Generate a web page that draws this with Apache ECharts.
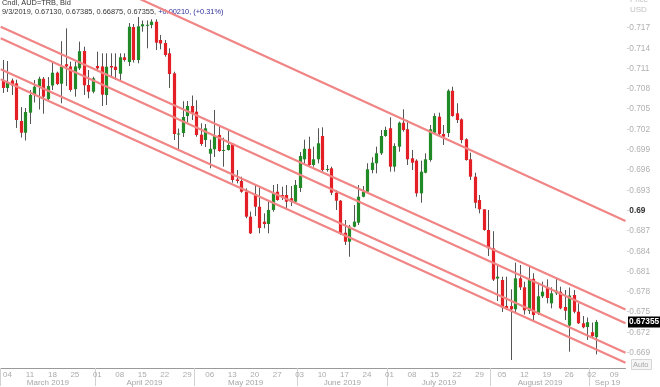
<!DOCTYPE html>
<html><head><meta charset="utf-8">
<script src="https://cdn.jsdelivr.net/npm/echarts@6/dist/echarts.min.js"></script>
<style>html,body{margin:0;padding:0;background:#fff}#c{width:660px;height:387px}</style>
</head><body><div id="c"></div>
<script>
// ---- data (AUD=TRB daily, Bid) ----
const startDate = '2019-03-01';
const nSlots = 139; // trading-day slots on the axis (data + blank future)
const opens = [0.70927,0.70814,0.70924,0.70882,0.70325,0.70152,0.70448,0.70710,0.70842,0.70950,
0.70651,0.70850,0.71039,0.70877,0.71165,0.71132,0.70796,0.71104,0.71361,0.70857,
0.70759,0.71138,0.71132,0.70710,0.71138,0.71128,0.71024,0.71267,0.71197,0.71715,
0.71227,0.71725,0.71740,0.71744,0.71793,0.71523,0.71478,0.71326,0.71030,0.70133,
0.70148,0.70399,0.70547,0.70463,0.70123,0.70044,0.69842,0.69908,0.70118,0.69889,
0.69897,0.69993,0.69463,0.69438,0.69280,0.68911,0.69246,0.69058,0.68837,0.68803,
0.69010,0.69280,0.69231,0.69231,0.69183,0.69132,0.69335,0.69759,0.69914,0.69675,
0.69759,0.70104,0.69608,0.69626,0.69265,0.69147,0.68674,0.68541,0.68763,0.68822,
0.69206,0.69280,0.69601,0.69700,0.69848,0.70104,0.70218,0.69650,0.69946,0.70300,
0.70203,0.69774,0.69739,0.69256,0.69561,0.69749,0.70152,0.70389,0.70133,0.70148,
0.70773,0.70439,0.70350,0.70055,0.69759,0.69502,0.69157,0.69020,0.68714,0.68443,
0.67997,0.67975,0.67590,0.67590,0.67542,0.68000,0.67867,0.67516,0.67993,0.67482,
0.67734,0.67857,0.67630,0.67778,0.67802,0.67576,0.67302,0.67753,0.67506,0.67335,
0.67280,0.67203,0.67130];
const highs = [0.71227,0.71212,0.70953,0.70936,0.70532,0.70518,0.70784,0.70931,0.70980,0.70975,
0.70975,0.71183,0.71054,0.71505,0.71695,0.71202,0.71202,0.71498,0.71424,0.71079,
0.70980,0.71350,0.71326,0.71326,0.71326,0.71326,0.71326,0.71326,0.71774,0.71759,
0.71863,0.71811,0.71811,0.71829,0.71829,0.71597,0.71523,0.71400,0.71054,0.70214,
0.70618,0.70621,0.70702,0.70632,0.70291,0.70281,0.70049,0.70488,0.70262,0.70078,
0.70177,0.69996,0.69601,0.69502,0.69330,0.68985,0.69379,0.69349,0.68961,0.69132,
0.69379,0.69394,0.69354,0.69379,0.69364,0.69453,0.69867,0.70049,0.70093,0.69946,
0.70218,0.70232,0.69675,0.69650,0.69305,0.69157,0.68862,0.68788,0.69083,0.69379,
0.69364,0.69700,0.69789,0.69946,0.70192,0.70241,0.70380,0.69996,0.70315,0.70498,
0.70340,0.69897,0.69759,0.69739,0.69848,0.70266,0.70439,0.70448,0.70266,0.70794,
0.70832,0.70587,0.70365,0.70070,0.69857,0.69561,0.69231,0.69020,0.69010,0.68696,
0.68182,0.68024,0.68024,0.67837,0.68231,0.68197,0.67950,0.68167,0.68074,0.67931,
0.67950,0.67985,0.67867,0.68000,0.67876,0.67827,0.67864,0.67827,0.67630,0.67442,
0.67420,0.67346,0.67385];
const lows = [0.70740,0.70754,0.70710,0.70222,0.70081,0.70037,0.70281,0.70599,0.70495,0.70433,
0.70629,0.70784,0.70857,0.70587,0.70842,0.70759,0.70685,0.71079,0.70710,0.70661,
0.70735,0.71079,0.70547,0.70562,0.70980,0.70931,0.70901,0.71202,0.71138,0.71190,
0.71178,0.71645,0.71400,0.71696,0.71375,0.71385,0.71276,0.70814,0.70044,0.69907,
0.70089,0.70303,0.70340,0.70093,0.69959,0.69941,0.69626,0.69793,0.69871,0.69650,
0.69889,0.69413,0.69404,0.69265,0.68887,0.68655,0.68921,0.68665,0.68739,0.68665,
0.68985,0.69147,0.69157,0.69010,0.69069,0.69109,0.69276,0.69694,0.69650,0.69650,
0.69700,0.69576,0.69576,0.69231,0.69010,0.68640,0.68492,0.68319,0.68754,0.68788,
0.69197,0.69265,0.69552,0.69552,0.69823,0.70093,0.69576,0.69576,0.69871,0.70167,
0.69675,0.69601,0.69206,0.69117,0.69552,0.69724,0.70133,0.70118,0.69971,0.70089,
0.70389,0.70296,0.69996,0.69739,0.69453,0.69035,0.68961,0.68704,0.68330,0.67960,
0.67664,0.67502,0.67531,0.66792,0.67482,0.67827,0.67464,0.67472,0.67383,0.67457,
0.67709,0.67630,0.67556,0.67753,0.67542,0.67383,0.66915,0.67482,0.67324,0.67261,
0.67088,0.67132,0.66875];
const closes = [0.70814,0.70887,0.70850,0.70340,0.70152,0.70458,0.70710,0.70832,0.70950,0.70685,
0.70842,0.71039,0.70872,0.71128,0.71132,0.70784,0.71132,0.71357,0.70853,0.70759,
0.70956,0.71104,0.70715,0.71128,0.71116,0.71079,0.71267,0.71227,0.71719,0.71227,
0.71725,0.71755,0.71747,0.71793,0.71483,0.71471,0.71301,0.71020,0.70133,0.70140,
0.70384,0.70547,0.70448,0.70118,0.69985,0.70218,0.69914,0.70106,0.69882,0.69897,
0.69971,0.69453,0.69438,0.69280,0.68911,0.68665,0.69058,0.68744,0.68803,0.69010,
0.69256,0.69157,0.69206,0.69132,0.69128,0.69379,0.69808,0.69914,0.69675,0.69759,
0.69996,0.69601,0.69616,0.69265,0.69147,0.68665,0.68541,0.68763,0.68837,0.69206,
0.69280,0.69611,0.69709,0.69848,0.70104,0.70192,0.69650,0.69956,0.70300,0.70192,
0.69759,0.69709,0.69256,0.69576,0.69759,0.70203,0.70399,0.70133,0.70093,0.70773,
0.70399,0.70340,0.70044,0.69749,0.69502,0.69117,0.69020,0.68714,0.68443,0.67982,
0.68024,0.67568,0.67556,0.67542,0.68000,0.67867,0.67527,0.67985,0.67457,0.67734,
0.67802,0.67709,0.67778,0.67817,0.67556,0.67521,0.67745,0.67506,0.67335,0.67276,
0.67351,0.67145,0.67355];
// trend lines: [slotIndex, price] end points
const trendLines = [
  [[28, 0.72204], [138.5, 0.68846]],
  [[-0.5, 0.71719], [138.5, 0.67540]],
  [[-0.5, 0.71548], [138.5, 0.67335]],
  [[-0.5, 0.71090], [138.5, 0.66899]],
  [[-0.5, 0.70942], [138.5, 0.66751]]
];
const yTickLabels = ['0.669','0.672','0.675','0.678','0.681','0.684','0.687','0.69','0.693','0.696','0.699','0.702','0.705','0.708','0.711','0.714','0.717'];
const monthLabels = ['March 2019','April 2019','May 2019','June 2019','July 2019','August 2019','Sep 19'];
const yMin = 0.66674, yMax = 0.72114;

// ---- derived ----
const dates = [];
(function(){
  let d = new Date(startDate + 'T00:00:00Z');
  while (dates.length < nSlots) {
    const wd = d.getUTCDay();
    if (wd !== 0 && wd !== 6) dates.push(new Date(d.getTime()));
    d = new Date(d.getTime() + 86400000);
  }
})();
const dayLabelMap = {}; const mondayIdx = [];
dates.forEach((d, i) => { if (d.getUTCDay() === 1) { mondayIdx.push(i); dayLabelMap[i] = String(d.getUTCDate()).padStart(2, '0'); } });
const monthStarts = [];
dates.forEach((d, i) => { if (i === 0 || d.getUTCMonth() !== dates[i-1].getUTCMonth()) monthStarts.push(i); });
const monthBounds = monthStarts.map(i => i - 0.5);
const monthCenters = []; const monthLabelMap = {};
monthStarts.forEach((s, k) => {
  const a = s - 0.5, b = (k + 1 < monthStarts.length ? monthStarts[k+1] : nSlots) - 0.5;
  const c = (a + b) / 2; monthCenters.push(c); monthLabelMap[Math.round(c * 2)] = monthLabels[k];
});
const candleData = opens.map((o, i) => [i, o, closes[i], lows[i], highs[i]]);
const n = opens.length;
const last = n - 1;
const chg = closes[last] - closes[last-1];
const pct = chg / closes[last-1] * 100;
const ld = dates[last];
const dateStr = (ld.getUTCMonth()+1) + '/' + ld.getUTCDate() + '/' + ld.getUTCFullYear();
const legendA = dateStr + ', ' + [opens[last], highs[last], lows[last], closes[last]].map(v => v.toFixed(5)).join(', ') + ', ';
const legendB = (chg >= 0 ? '+' : '') + chg.toFixed(5) + ', (' + (pct >= 0 ? '+' : '') + pct.toFixed(2) + '%)';

const F = 'Liberation Sans, Arial, sans-serif';
const RED = '#e31e24', GREEN = '#1f8a26', WICK = '#555555', TREND = 'rgb(241,132,132)';

function renderCandle(params, api) {
  const x = api.value(0), o = api.value(1), c = api.value(2), l = api.value(3), h = api.value(4);
  const pO = api.coord([x, o]), pC = api.coord([x, c]), pL = api.coord([x, l]), pH = api.coord([x, h]);
  const w = 3.2;
  const cx = Math.round(pO[0]) + 0.5;
  const top = Math.min(pO[1], pC[1]), bot = Math.max(pO[1], pC[1]);
  return { type: 'group', children: [
    { type: 'line', shape: { x1: cx, y1: pH[1], x2: cx, y2: pL[1] }, style: { stroke: WICK, lineWidth: 1 } },
    { type: 'rect', shape: { x: cx - w / 2, y: top, width: w, height: Math.max(bot - top, 1) }, style: { fill: c >= o ? GREEN : RED } }
  ]};
}
// last-price tag on the price scale
function renderTag(params, api) {
  const p = api.coord([nSlots - 0.5, api.value(1)]);
  return { type: 'text', silent: true, style: {
    x: p[0] + 2.5, y: p[1], text: api.value(1).toFixed(5), verticalAlign: 'middle', align: 'left',
    font: 'bold 8.4px ' + F, fill: '#fff', backgroundColor: '#000', padding: [2, 1, 1, 1]
  }};
}

const chart = echarts.init(document.getElementById('c'), null, { renderer: 'canvas' });
const series = [{
  type: 'custom', renderItem: renderCandle, data: candleData, clip: true,
  encode: { x: 0, y: [1, 2, 3, 4] }, silent: true, z: 2
}];
trendLines.forEach((tl) => series.push({
  type: 'line', data: tl, symbol: 'none', silent: true, z: 3, clip: true,
  lineStyle: { color: TREND, width: 2.2 }
}));
series.push({
  type: 'custom', renderItem: renderTag, data: [[last, closes[last]]], clip: false, silent: true, z: 5,
  encode: { x: 0, y: 1 }
});

chart.setOption({
  animation: false,
  backgroundColor: '#fff',
  grid: { left: 0, right: 34.5, top: 0, bottom: 19, containLabel: false },
  xAxis: [{
    type: 'value', min: -0.5, max: nSlots - 0.5, position: 'bottom',
    axisLine: { show: true, lineStyle: { color: '#9a9a9a', width: 1 } },
    axisTick: { show: false }, splitLine: { show: false },
    axisLabel: { customValues: mondayIdx, formatter: v => dayLabelMap[Math.round(v)] || '',
      fontSize: 8, fontFamily: F, color: '#ababab', margin: 3 }
  }, {
    type: 'value', min: -0.5, max: nSlots - 0.5, position: 'bottom',
    axisLine: { show: false }, splitLine: { show: false },
    axisTick: { show: true, customValues: monthBounds, length: 18, lineStyle: { color: '#d2d2d2' } },
    axisLabel: { customValues: monthCenters, formatter: v => monthLabelMap[Math.round(v * 2)] || '',
      fontSize: 8, fontFamily: F, color: '#a6a6a6', margin: 11 }
  }],
  yAxis: {
    type: 'value', position: 'right', min: yMin, max: yMax, scale: true,
    axisLine: { show: false }, splitLine: { show: false }, axisTick: { show: false },
    axisLabel: { customValues: yTickLabels.map(Number), margin: 1,
      formatter: v => { const s = yTickLabels.find(t => Math.abs(Number(t) - v) < 1e-9) || v.toFixed(3); return s === '0.69' ? '{t|-}{b|' + s + '}' : '{t|-}{n|' + s + '}'; },
      rich: { t: { fontSize: 8.3, fontFamily: F, color: '#c4c4c4' }, n: { fontSize: 8.3, fontFamily: F, color: '#b0b0b0' }, b: { fontSize: 8.3, fontFamily: F, color: '#333', fontWeight: 'bold' } } }
  },
  graphic: [
    { type: 'text', left: 2, top: -1, silent: true, style: { text: 'Cndl, AUD=TRB, Bid', fontSize: 7.4, fontFamily: F, fill: '#333' } },
    { type: 'text', left: 2, top: 8.5, silent: true, style: { text: '{a|' + legendA + '}{b|' + legendB + '}', fontSize: 7.4, fontFamily: F,
        rich: { a: { fontSize: 7.4, fontFamily: F, fill: '#333', color: '#333' }, b: { fontSize: 7.4, fontFamily: F, fill: '#2e2e9a', color: '#2e2e9a' } } } },
    { type: 'text', left: 630, top: -4, silent: true, style: { text: 'Price', fontSize: 8, fontFamily: F, fill: '#c2c2c2' } },
    { type: 'text', left: 630, top: 5.5, silent: true, style: { text: 'USD', fontSize: 8, fontFamily: F, fill: '#c2c2c2' } },
    { type: 'rect', left: 631, top: 359, silent: true, shape: { width: 20, height: 10 }, style: { fill: '#f5f5f5', stroke: '#d6d6d6', lineWidth: 1 } },
    { type: 'text', left: 633, top: 360.5, silent: true, style: { text: 'Auto', fontSize: 7.5, fontFamily: F, fill: '#a8a8a8' } }
  ],
  series: series
});
</script>
</body></html>
